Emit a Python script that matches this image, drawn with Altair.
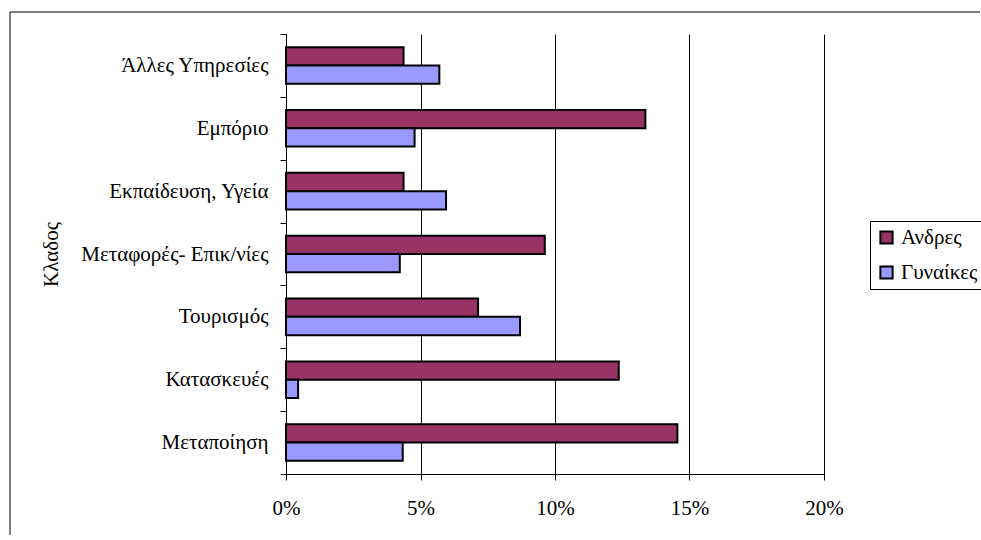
import altair as alt
import pandas as pd

# Employment share by sector and sex
sectors = [
    "Άλλες Υπηρεσίες",
    "Εμπόριο",
    "Εκπαίδευση, Υγεία",
    "Μεταφορές- Επικ/νίες",
    "Τουρισμός",
    "Κατασκευές",
    "Μεταποίηση",
]
men = [0.0437, 0.1336, 0.0437, 0.0962, 0.0714, 0.1237, 0.1455]
women = [0.0570, 0.0478, 0.0595, 0.0423, 0.0870, 0.0045, 0.0434]
series = ["Ανδρες", "Γυναίκες"]
colors = ["#993366", "#9999FF"]
x_ticks = [0, 0.05, 0.10, 0.15, 0.20]

rows = []
for s, m, w in zip(sectors, men, women):
    rows.append({"sector": s, "sex": series[0], "share": m})
    rows.append({"sector": s, "sex": series[1], "share": w})
df = pd.DataFrame(rows)

FONT = "Liberation Serif"
FS = 21

# plot-area geometry inside the canvas
TOTAL_W, TOTAL_H = 981, 535
PL, PT, PW, PH = 286, 34, 538, 440

bars = alt.Chart(df).mark_bar(stroke="black", strokeWidth=2).encode(
    x=alt.X(
        "share:Q",
        scale=alt.Scale(domain=[0, 0.2], nice=False),
        axis=alt.Axis(
            values=x_ticks,
            format=".0%",
            title=None,
            grid=True,
            gridColor="black",
            gridWidth=1,
            domainColor="black",
            tickColor="black",
            tickSize=6,
            labelFont=FONT,
            labelFontSize=FS,
            labelColor="black",
            labelPadding=17,
            labelFlush=False,
            labelOverlap=False,
        ),
    ),
    y=alt.Y(
        "sector:N",
        sort=sectors,
        scale=alt.Scale(paddingInner=0, paddingOuter=0),
        axis=alt.Axis(
            title="Κλαδος",
            titleFont=FONT,
            titleFontSize=FS,
            titleFontWeight="normal",
            titleColor="black",
            titleAngle=270,
            titleX=51 - PL,
            titleY=PH / 2,
            titleAlign="center",
            titleBaseline="middle",
            tickBand="extent",
            tickExtra=True,
            tickColor="black",
            tickSize=6,
            domainColor="black",
            labelFont=FONT,
            labelFontSize=FS,
            labelColor="black",
            labelPadding=12,
            labelLimit=300,
            grid=False,
        ),
    ),
    yOffset=alt.YOffset(
        "sex:N", sort=series, scale=alt.Scale(paddingInner=0, paddingOuter=0.72)
    ),
    color=alt.Color(
        "sex:N",
        sort=series,
        scale=alt.Scale(domain=series, range=colors),
        legend=alt.Legend(
            title=None,
            orient="none",
            legendX=870 - PL,
            legendY=221 - PT,
            strokeColor="black",
            padding=6,
            rowPadding=13,
            symbolType="square",
            symbolSize=150,
            symbolStrokeColor="black",
            symbolStrokeWidth=2,
            symbolOpacity=1,
            labelFont=FONT,
            labelFontSize=FS,
            labelColor="black",
            labelOffset=4,
            labelLimit=200,
        ),
    ),
)

# outer frame: top and left edges of the chart border
frame_src = pd.DataFrame({"k": [0]})
frame_top = alt.Chart(frame_src).mark_rule(color="black", strokeWidth=1).encode(
    x=alt.value(10 - PL),
    x2=alt.value(TOTAL_W - 1 - PL),
    y=alt.value(12 - PT),
)
frame_left = alt.Chart(frame_src).mark_rule(color="black", strokeWidth=1).encode(
    x=alt.value(10 - PL),
    y=alt.value(12 - PT),
    y2=alt.value(TOTAL_H - PT),
)

chart = (
    alt.layer(frame_top, frame_left, bars)
    .properties(
        width=PW,
        height=PH,
        autosize=alt.AutoSizeParams(type="none"),
        padding={
            "left": PL,
            "top": PT,
            "right": TOTAL_W - PL - PW,
            "bottom": TOTAL_H - PT - PH,
        },
    )
    .configure_view(stroke=None)
)

chart.save("out.html", embed_options={"renderer": "svg", "actions": False})
